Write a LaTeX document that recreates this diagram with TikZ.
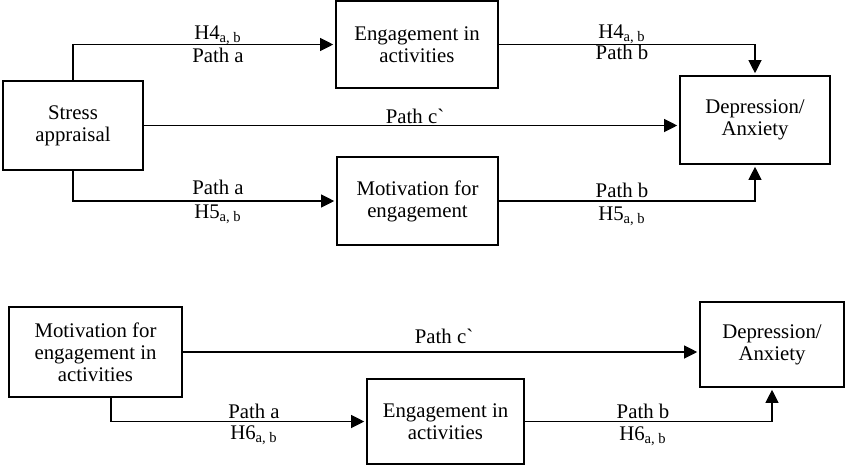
\documentclass[tikz,border=0pt]{standalone}
\usepackage{fontspec}
\setmainfont{Liberation Serif}
\usetikzlibrary{arrows.meta}
\tikzset{>={Triangle[length=6.5pt,width=6.5pt]}}

\begin{document}
\begin{tikzpicture}[x=0.5pt, y=-0.5pt,
    box/.style={draw, line width=0.8pt, align=center, inner sep=0pt,
      font=\fontsize{10.4}{11}\selectfont},
    lbl/.style={anchor=base, inner sep=0pt, font=\fontsize{10.4}{11}\selectfont},
    arr/.style={->, line width=0.55pt, shorten >=1pt}]
    \useasboundingbox (0,0) rectangle (850,472);
    % stress appraisal model
    \node[box, minimum width=70pt, minimum height=44.5pt] (stress) at (73,125.5) {Stress\\appraisal};
    \node[box, minimum width=81pt, minimum height=43.5pt] (engtop) at (417,44.5) {Engagement in\\activities};
    \node[box, minimum width=80.5pt, minimum height=44pt] (motivtop) at (417.5,201) {Motivation for\\engagement};
    \node[box, minimum width=75pt, minimum height=44pt] (deptop) at (755,120) {Depression/\\Anxiety};
    \draw[arr] (stress.north) |- (engtop.west);
    \draw[arr] (engtop.east) -| (deptop.north);
    \draw[arr] (stress.east) -- (stress.east -| deptop.west);
    \draw[arr] (stress.south) |- (motivtop.west);
    \draw[arr] (motivtop.east) -| (deptop.south);
    \node[lbl] (h4a) at (218,39) {H4\textsubscript{a, b}};
    \node[lbl] (pa1) at (218,62) {Path a};
    \node[lbl] (h4b) at (622,38) {H4\textsubscript{a, b}};
    \node[lbl] (pb1) at (622,59) {Path b};
    \node[lbl] (pc1) at (415,123) {Path c\textasciigrave};
    \node[lbl] (pa2) at (218,194) {Path a};
    \node[lbl] (h5a) at (218,218) {H5\textsubscript{a, b}};
    \node[lbl] (pb2) at (622,197) {Path b};
    \node[lbl] (h5b) at (622,220) {H5\textsubscript{a, b}};
    % motivation model
    \node[box, minimum width=86.5pt, minimum height=45pt] (motivbot) at (95.5,352) {Motivation for\\engagement in\\activities};
    \node[box, minimum width=78.5pt, minimum height=42.5pt] (engbot) at (445.5,421.5) {Engagement in\\activities};
    \node[box, minimum width=72pt, minimum height=42.5pt] (depbot) at (772,344.5) {Depression/\\Anxiety};
    \draw[arr] (motivbot.east) -- (motivbot.east -| depbot.west);
    \draw[arr] ([xshift=7.75pt]motivbot.south) |- (engbot.west);
    \draw[arr] (engbot.east) -| (depbot.south);
    \node[lbl] (pc2) at (444,343) {Path c\textasciigrave};
    \node[lbl] (pa3) at (254,418) {Path a};
    \node[lbl] (h6a) at (254,439) {H6\textsubscript{a, b}};
    \node[lbl] (pb3) at (643,418) {Path b};
    \node[lbl] (h6b) at (643,440) {H6\textsubscript{a, b}};
\end{tikzpicture}
\end{document}
